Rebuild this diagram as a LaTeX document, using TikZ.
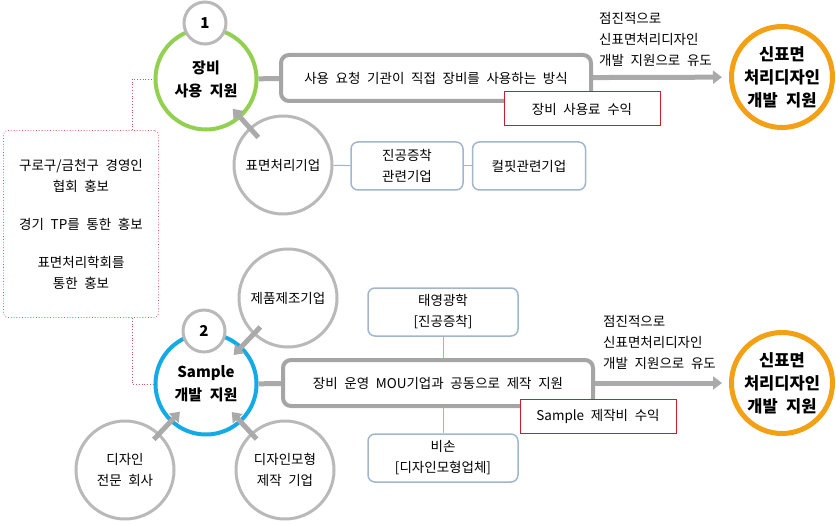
\documentclass[tikz,border=0pt]{standalone}
\usepackage{fontspec}
\setmainfont[WordSpace=2.2]{Noto Sans CJK KR}
\usepackage{xcolor}
\usetikzlibrary{shapes,arrows.meta,positioning}

\definecolor{ringgreen}{RGB}{146,208,80}
\definecolor{ringblue}{RGB}{20,170,230}
\definecolor{goalorange}{RGB}{243,160,20}
\definecolor{linegray}{RGB}{185,185,185}
\definecolor{boxgray}{RGB}{165,165,165}
\definecolor{arrowgray}{RGB}{170,170,170}
\definecolor{paleblue}{RGB}{160,182,205}
\definecolor{incomered}{RGB}{200,30,50}
\definecolor{promored}{RGB}{205,90,90}

\begin{document}
\begin{tikzpicture}[x=1pt, y=-1pt,
        font=\fontsize{13.5}{21}\selectfont,
        ring/.style={circle, line width=4pt, fill=white, minimum size=101pt, inner sep=0pt, align=center, font=\fontsize{15}{23}\selectfont\bfseries},
        numring/.style={circle, draw=linegray, line width=3pt, fill=white, minimum size=42pt, inner sep=0pt, font=\fontsize{15}{17}\selectfont\bfseries},
        partner/.style={circle, draw=linegray, line width=3pt, fill=white, minimum size=98pt, inner sep=0pt, align=center},
        goal/.style={circle, draw=goalorange, line width=5pt, fill=white, minimum size=101pt, inner sep=0pt, align=center, font=\fontsize{16.5}{23}\selectfont\bfseries},
        mainbox/.style={rectangle, rounded corners=8pt, draw=boxgray, line width=4pt, fill=white, minimum width=310pt, minimum height=46pt, align=center},
        subbox/.style={rectangle, rounded corners=7pt, draw=paleblue, line width=1.5pt, fill=white, minimum height=48pt, align=center},
        incomebox/.style={rectangle, draw=incomered, line width=1pt, fill=white, minimum height=34pt, minimum width=156pt},
        note/.style={align=left, anchor=west, inner sep=0pt},
        feed/.style={-{Triangle[length=9pt,width=13pt]}, draw=arrowgray, line width=5pt},
        bar/.style={draw=arrowgray, line width=5pt},
        link/.style={draw=paleblue, line width=1pt},
        promo/.style={draw=promored, dotted, line width=0.8pt}
    ]
        \useasboundingbox (0,0) rectangle (836,524);

        % promotion box on the left
        \node[rectangle, rounded corners=4pt, promo, minimum width=155pt, minimum height=187pt, align=center] (promo) at (81,224)
            {구로구/금천구 경영인\\협회 홍보\\[17pt]경기 TP를 통한 홍보\\[17pt]표면처리학회를\\통한 홍보};

        % 1: equipment use
        \node[ring, draw=ringgreen] (use) at (206,79) {장비\\사용 지원};
        \node[numring] (num1) at (205,23) {1};
        \node[mainbox] (usebox) at (436,78) {사용 요청 기관이 직접 장비를 사용하는 방식};
        \node[incomebox] (usefee) at (582,109) {장비 사용료 수익};
        \node[goal] (goal1) at (782,77) {신표면\\처리디자인\\개발 지원};
        \node[note] (lead1) at (599,39) {점진적으로\\신표면처리디자인\\개발 지원으로 유도};
        \node[partner] (surface) at (283,165) {표면처리기업};
        \node[subbox, minimum width=112pt] (vacuum) at (407,166) {진공증착\\관련기업};
        \node[subbox, right=8pt of vacuum, minimum width=113pt] (colorfilm) {컬핏관련기업};

        \draw[bar] (use) -- (usebox);
        \draw[feed, shorten >=7pt] (usebox) -- (goal1);
        \draw[feed, shorten <=37pt, shorten >=40pt] (surface.center) -- (use.center);
        \draw[link] (surface) -- (vacuum);
        \draw[link] (vacuum) -- (colorfilm);

        % 2: sample development
        \node[ring, draw=ringblue] (sample) at (206,384) {Sample\\개발 지원};
        \node[numring] (num2) at (204,331) {2};
        \node[mainbox] (samplebox) at (438,383) {장비 운영 MOU기업과 공동으로 제작 지원};
        \node[incomebox] (samplefee) at (598,416) {Sample 제작비 수익};
        \node[goal] (goal2) at (782,383) {신표면\\처리디자인\\개발 지원};
        \node[note] (lead2) at (603,342) {점진적으로\\신표면처리디자인\\개발 지원으로 유도};
        \node[partner] (maker) at (288,298) {제품제조기업};
        \node[partner] (designer) at (125,470) {디자인\\전문 회사};
        \node[partner] (modeler) at (285,470) {디자인모형\\제작 기업};
        \node[subbox, minimum width=150pt] (taeyoung) at (443,312) {태영광학\\{[진공증착]}};
        \node[subbox, minimum width=150pt] (bison) at (443,458) {비손\\{[디자인모형업체]}};

        \draw[bar] (sample) -- (samplebox);
        \draw[feed, shorten >=7pt] (samplebox) -- (goal2);
        \draw[feed, shorten <=40pt, shorten >=40pt] (maker.center) -- (sample.center);
        \draw[feed, shorten <=42pt, shorten >=38pt] (designer.center) -- (sample.center);
        \draw[feed, shorten <=42pt, shorten >=38pt] (modeler.center) -- (sample.center);
        \draw[link] (taeyoung) -- (taeyoung |- samplebox.north);
        \draw[link] (bison) -- (bison |- samplebox.south);

        % dotted links from the promotion box
        \draw[promo] ([xshift=51pt]promo.north) |- (use.west);
        \draw[promo] ([xshift=51pt]promo.south) |- (sample.west);
    \end{tikzpicture}
\end{document}
